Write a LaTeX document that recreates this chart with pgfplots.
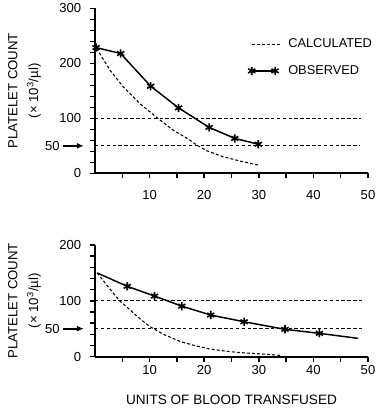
\documentclass[border=0pt]{standalone}
\usepackage{pgfplots}
\pgfplotsset{compat=1.18}
\usepackage{fontspec}
\setmainfont{Liberation Sans}
\usetikzlibrary{arrows.meta}
\pgfplotsset{
  common/.style={
    scale only axis, width=204.75pt,
    xmin=0, xmax=50, ymin=0,
    axis lines=left, axis line style={-, line width=1.5pt},
    tick style={line width=1.1pt, black},
    tick align=outside, major tick length=3.75pt, minor tick length=3.75pt,
    xtick={10,20,30,40,50}, minor xtick={5,15,25,35,45},
    /pgf/number format/assume math mode=true,
    ticklabel style={font=\fontsize{9.8}{11}\selectfont, inner sep=0pt},
    yticklabel style={anchor=east, xshift=-6.5pt},
    xticklabel style={anchor=north},
    ylabel style={at={(axis description cs:-0.258,0.5)}, anchor=center, align=center, font=\fontsize{9.9}{15.5}\selectfont},
    clip=false,
  },
  calc/.style={black, line width=0.8pt, dash pattern=on 2.2pt off 1.6pt,
    legend image code/.code={\draw[##1] (0pt,0pt) -- (21pt,0pt);}},
  refl/.style={black, line width=0.9pt, dash pattern=on 2.6pt off 1.8pt},
  obs/.style={black, line width=1.1pt, mark=asterisk, mark size=3.1pt, mark options={line width=1.2pt, solid},
    legend image code/.code={\draw[##1] plot coordinates {(0pt,0pt) (17.5pt,0pt)};}},
}
\begin{document}
\begin{tikzpicture}
\begin{axis}[common, height=123.75pt, ymax=300,
  ytick={0,100,200,300}, minor ytick={0,20,...,300},
  xticklabel style={yshift=-9pt},
  ylabel={PLATELET COUNT\\(× 10\textsuperscript{3}/µl)},
  legend style={draw=none, fill=none, at={(axis cs:28.0,250)}, anchor=north west,
    font=\fontsize{9.6}{11}\selectfont, row sep=7.8pt, inner sep=0pt,
    /tikz/every odd column/.append style={column sep=4pt}},
  legend cell align=left]
\addplot[calc] coordinates {
(0.3,227)(2.75,187.5)(5.2,157)(8.2,127)(11.3,101.6)(14.3,78.6)(17.4,60.4)(18.6,51.4)(20.5,41)(23.5,30)(26.6,22.3)(29.9,15)};
\addlegendentry{CALCULATED}
\addplot[obs] coordinates {
(0.2,228.7)(4.7,217.8)(10.2,158.4)(15.3,119)(20.9,83.5)(25.6,63.5)(29.9,53)};
\addlegendentry{OBSERVED}
\addplot[refl, forget plot] coordinates {(0,100)(48.8,100)};
\addplot[refl, forget plot] coordinates {(0,50)(48.6,50)};
\node[anchor=east, inner sep=0pt, font=\fontsize{9.8}{11}\selectfont] at ([xshift=-26.25pt]axis cs:0,50) {50};
\draw[line width=1.3pt, -{Latex[length=5pt,width=4.5pt]}] ([xshift=-24pt]axis cs:0,50) -- ([xshift=-8.5pt]axis cs:0,50);
\end{axis}
\begin{axis}[common, at={(0pt,-137.4pt)}, height=83.6pt, ymax=200,
  ytick={0,100,200}, minor ytick={0,20,...,200},
  xticklabel style={yshift=-2.6pt},
  ylabel={PLATELET COUNT\\(× 10\textsuperscript{3}/µl)},
  xlabel={UNITS OF BLOOD TRANSFUSED},
  xlabel style={at={(axis description cs:0.5,-0.39)}, anchor=center, font=\fontsize{10.2}{12}\selectfont}]
\addplot[calc] coordinates {
(0.4,150)(2.5,124)(4.5,100)(6.5,83)(8.2,68)(10,54)(12.5,40)(15.6,27)(18.5,19)(21.1,13.5)(24,9.5)(26.6,7)(29,5.5)(31.4,4)(34,2)};
\addplot[black, line width=1.1pt] coordinates {
(0.4,150)(5.9,126)(10.9,108.5)(15.9,90.4)(21.2,74.4)(27.3,62.4)(34.8,48.8)(41.1,41.6)(48.2,32.6)};
\addplot[obs, only marks] coordinates {
(5.9,126)(10.9,108.5)(15.9,90.4)(21.2,74.4)(27.3,62.4)(34.8,48.8)(41.1,41.6)};
\addplot[refl] coordinates {(0,100)(49.1,100)};
\addplot[refl] coordinates {(0,50)(49.4,50)};
\node[anchor=east, inner sep=0pt, font=\fontsize{9.8}{11}\selectfont] at ([xshift=-26.25pt]axis cs:0,50) {50};
\draw[line width=1.3pt, -{Latex[length=5pt,width=4.5pt]}] ([xshift=-24pt]axis cs:0,50) -- ([xshift=-8.5pt]axis cs:0,50);
\end{axis}
\pgfresetboundingbox
\path (-71.25pt,130pt) rectangle (216.75pt,-177.5pt);
\end{tikzpicture}
\end{document}
